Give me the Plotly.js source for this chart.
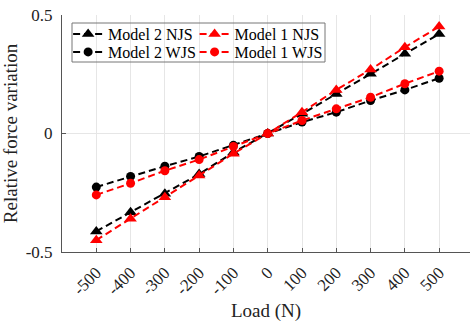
<!DOCTYPE html>
<html>
<head>
<meta charset="utf-8">
<script src="https://cdn.plot.ly/plotly-3.0.1.min.js"></script>
<style>html,body{margin:0;padding:0;background:#fff;}#chart{width:470px;height:322px;}</style>
</head>
<body>
<div id="chart"></div>
<script>
const loads = [-500, -400, -300, -200, -100, 0, 100, 200, 300, 400, 500];
const tickLabels = ['-500','-400','-300','-200','-100','0','100','200','300','400','500'];
const model2NJS = [-0.413, -0.332, -0.254, -0.171, -0.080, 0, 0.083, 0.167, 0.252, 0.336, 0.420];
const model2WJS = [-0.226, -0.181, -0.138, -0.097, -0.050, 0, 0.048, 0.090, 0.139, 0.184, 0.233];
const model1NJS = [-0.450, -0.360, -0.269, -0.177, -0.085, 0, 0.090, 0.184, 0.270, 0.364, 0.451];
const model1WJS = [-0.259, -0.210, -0.157, -0.110, -0.055, 0, 0.055, 0.104, 0.153, 0.210, 0.263];

const font = 'Liberation Serif';
function tr(name, y, color, symbol, size, legend) {
  return {
    x: loads, y: y, name: name, type: 'scatter', mode: 'lines+markers',
    line: {color: color, width: 2, dash: '7px,4px'},
    marker: {color: color, symbol: symbol, size: size},
    legend: legend
  };
}
const data = [
  tr('Model 2 NJS', model2NJS, '#000000', 'triangle-up', 11, 'legend'),
  tr('Model 1 NJS', model1NJS, '#ff0000', 'triangle-up', 11, 'legend2'),
  tr('Model 2 WJS', model2WJS, '#000000', 'circle', 9, 'legend3'),
  tr('Model 1 WJS', model1WJS, '#ff0000', 'circle', 9, 'legend4')
];
function leg(x, y) {
  return {
    bgcolor: 'rgba(0,0,0,0)', borderwidth: 0, font: {family: font, size: 16, color: '#000'},
    yanchor: 'middle', xanchor: 'left', x: x, y: y, itemwidth: 30
  };
}
const row1 = 1 - (34 - 15) / 237, row2 = 1 - (52 - 15) / 237;
const layout = {
  width: 470, height: 322,
  margin: {l: 62, r: 0, t: 15, b: 70},
  paper_bgcolor: '#fff', plot_bgcolor: '#fff',
  font: {family: font, color: '#222', size: 15},
  showlegend: true,
  legend: leg(0.015, row1),
  legend2: leg(0.325, row1),
  legend3: leg(0.015, row2),
  legend4: leg(0.325, row2),
  xaxis: {
    range: [-600, 590], tickvals: loads, ticktext: tickLabels, tickangle: -45,
    showgrid: true, gridcolor: '#e6e6e6', zeroline: false,
    showline: true, linecolor: '#555', linewidth: 1,
    ticks: 'inside', ticklen: 4, tickcolor: '#555', ticklabelstandoff: 3,
    tickfont: {family: font, size: 17, color: '#222'},
    title: {text: 'Load (N)', font: {family: font, size: 19, color: '#222'}, standoff: 8}
  },
  yaxis: {
    range: [-0.5, 0.5], tickvals: [-0.5, 0, 0.5], ticktext: ['-0.5', '0', '0.5'],
    showgrid: true, gridcolor: '#e6e6e6', zeroline: false,
    showline: true, linecolor: '#555', linewidth: 1,
    ticks: 'inside', ticklen: 4, tickcolor: '#555', ticklabelstandoff: 5,
    tickfont: {family: font, size: 17, color: '#222'},
    title: {text: 'Relative force variation', font: {family: font, size: 19, color: '#222'}, standoff: 4}
  },
  shapes: [{
    type: 'rect', xref: 'paper', yref: 'paper',
    x0: 10/408, x1: 263/408, y0: 1 - 47/237, y1: 1 - 8/237,
    line: {color: '#777', width: 1}, fillcolor: 'rgba(255,255,255,0)', layer: 'above'
  }]
};
Plotly.newPlot('chart', data, layout, {staticPlot: true, displayModeBar: false});
</script>
</body>
</html>
